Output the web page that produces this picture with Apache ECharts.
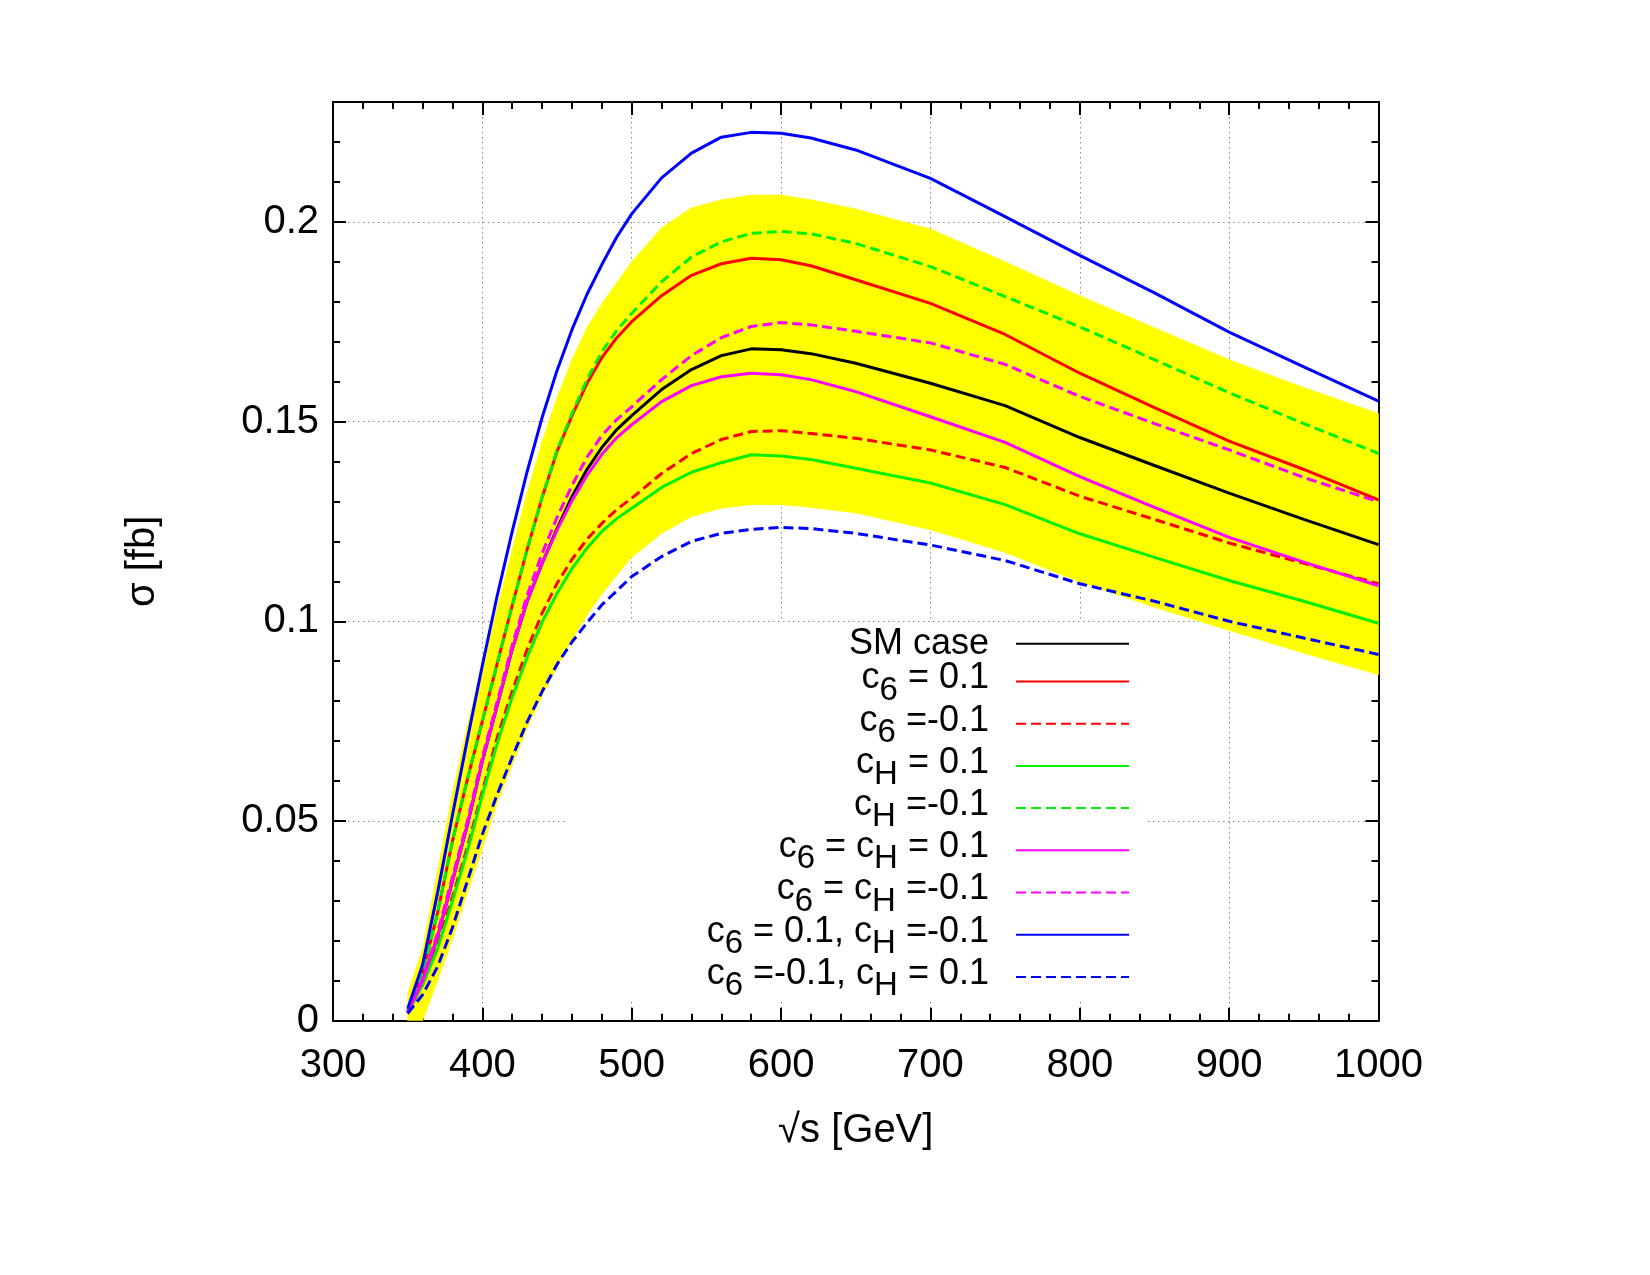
<!DOCTYPE html>
<html>
<head>
<meta charset="utf-8">
<script src="https://cdn.jsdelivr.net/npm/echarts@6/dist/echarts.min.js"></script>
<style>
  html, body { margin: 0; padding: 0; background: #fff; }
  #chart { width: 1650px; height: 1275px; }
</style>
</head>
<body>
<div id="chart"></div>
<script>
// sqrt(s) in GeV
var sqrtS = [350, 360, 370, 380, 390, 400, 410, 420, 430, 440, 450, 460, 470, 480, 490, 500,
  520, 540, 560, 580, 600, 620, 650, 700, 750, 800, 850, 900, 950, 1000];

// sigma [fb] for each case
var smCase = [0.002, 0.010, 0.021, 0.035, 0.049, 0.065, 0.079, 0.093, 0.105, 0.1145, 0.1232, 0.1312, 0.138, 0.1435, 0.148, 0.1515,
  0.158, 0.163, 0.1665, 0.1682, 0.168, 0.167, 0.1646, 0.1596, 0.154, 0.146, 0.139, 0.1321, 0.1255, 0.1192];
var c6Plus = [0.0025, 0.012, 0.027, 0.045, 0.0605, 0.075, 0.0895, 0.104, 0.118, 0.131, 0.1425, 0.1515, 0.1595, 0.166, 0.171, 0.175,
  0.1815, 0.1866, 0.1895, 0.1909, 0.1905, 0.189, 0.1855, 0.1796, 0.1718, 0.1621, 0.1535, 0.1451, 0.138, 0.1304];
var c6Minus = [0.002, 0.009, 0.019, 0.031, 0.0435, 0.0575, 0.071, 0.0825, 0.093, 0.102, 0.1095, 0.1155, 0.1205, 0.1245, 0.128, 0.1308,
  0.137, 0.142, 0.1455, 0.1475, 0.1477, 0.147, 0.1458, 0.1429, 0.1385, 0.1313, 0.1255, 0.1196, 0.1145, 0.1094];
var cHPlus = [0.002, 0.009, 0.018, 0.030, 0.0425, 0.0565, 0.0695, 0.081, 0.091, 0.0998, 0.107, 0.1132, 0.1183, 0.1225, 0.1257, 0.1283,
  0.1335, 0.1373, 0.1397, 0.1417, 0.1414, 0.1405, 0.1383, 0.1346, 0.1292, 0.1219, 0.116, 0.1102, 0.105, 0.0995];
var cHMinus = [0.0025, 0.012, 0.027, 0.045, 0.0605, 0.075, 0.0895, 0.104, 0.118, 0.131, 0.1428, 0.152, 0.1605, 0.1675, 0.1728, 0.1771,
  0.185, 0.1912, 0.195, 0.1971, 0.1976, 0.197, 0.1946, 0.1888, 0.1813, 0.1737, 0.1655, 0.1572, 0.1495, 0.142];
var bothPlus = [0.002, 0.010, 0.021, 0.035, 0.049, 0.065, 0.079, 0.093, 0.105, 0.1145, 0.1228, 0.1302, 0.1365, 0.1418, 0.146, 0.1492,
  0.155, 0.159, 0.1612, 0.1621, 0.1617, 0.1605, 0.1575, 0.1512, 0.1448, 0.1362, 0.1285, 0.121, 0.1148, 0.1089];
var bothMinus = [0.002, 0.0105, 0.022, 0.036, 0.050, 0.066, 0.080, 0.094, 0.1065, 0.117, 0.126, 0.134, 0.141, 0.1465, 0.1505, 0.1537,
  0.1605, 0.1665, 0.171, 0.1738, 0.1748, 0.1742, 0.1726, 0.1697, 0.1643, 0.1563, 0.1495, 0.1429, 0.136, 0.1299];
var c6PlusCHMinus = [0.003, 0.014, 0.032, 0.0515, 0.0705, 0.089, 0.1065, 0.1225, 0.1375, 0.151, 0.1628, 0.173, 0.1818, 0.1893, 0.1962, 0.202,
  0.211, 0.2172, 0.2212, 0.2224, 0.2222, 0.221, 0.218, 0.2109, 0.2013, 0.1916, 0.1822, 0.1724, 0.1637, 0.1551];
var c6MinusCHPlus = [0.0018, 0.0065, 0.0135, 0.0233, 0.035, 0.0467, 0.0567, 0.066, 0.0748, 0.0824, 0.0892, 0.0948, 0.0996, 0.1041, 0.1076, 0.1112,
  0.1162, 0.12, 0.122, 0.123, 0.1235, 0.1232, 0.122, 0.1191, 0.1152, 0.1094, 0.105, 0.1, 0.0958, 0.0917];

// yellow uncertainty band
var bandLow = [0, 0, 0.010, 0.0205, 0.032, 0.043, 0.0545, 0.064, 0.0732, 0.0812, 0.0885, 0.0953, 0.1015, 0.1068, 0.1115, 0.116,
  0.122, 0.1262, 0.1283, 0.1292, 0.1292, 0.1285, 0.1271, 0.1229, 0.1172, 0.1098, 0.1035, 0.0977, 0.092, 0.0866];
var bandHigh = [0.007, 0.018, 0.0375, 0.057, 0.074, 0.089, 0.1035, 0.118, 0.1322, 0.145, 0.156, 0.1655, 0.1735, 0.1795, 0.1848, 0.190,
  0.1985, 0.2035, 0.2055, 0.2067, 0.2067, 0.2055, 0.2032, 0.1982, 0.1900, 0.1815, 0.1735, 0.1655, 0.1585, 0.152];

// axis ticks
var xTicks = [300, 1000, 100];
var yTicks = [0, 0.23, 0.05, 0.01];

var names = ['SM case', 'c6 = 0.1', 'c6 =-0.1', 'cH = 0.1', 'cH =-0.1',
  'c6 = cH = 0.1', 'c6 = cH =-0.1', 'c6 = 0.1, cH =-0.1', 'c6 =-0.1, cH = 0.1'];
var labels = [
  '{m|SM case}{g| }',
  '{n|c}{s|6}{n| = 0.1}{g| }',
  '{n|c}{s|6}{n| =-0.1}{g| }',
  '{n|c}{s|H}{n| = 0.1}{g| }',
  '{n|c}{s|H}{n| =-0.1}{g| }',
  '{n|c}{s|6}{n| = c}{s|H}{n| = 0.1}{g| }',
  '{n|c}{s|6}{n| = c}{s|H}{n| =-0.1}{g| }',
  '{n|c}{s|6}{n| = 0.1, c}{s|H}{n| =-0.1}{g| }',
  '{n|c}{s|6}{n| =-0.1, c}{s|H}{n| = 0.1}{g| }'
];
var curves = [smCase, c6Plus, c6Minus, cHPlus, cHMinus, bothPlus, bothMinus, c6PlusCHMinus, c6MinusCHPlus];
var colors = ['#000000', '#ff0000', '#ff0000', '#00f000', '#00f000', '#ff00ff', '#ff00ff', '#0000ff', '#0000ff'];
var dashed = [false, false, true, false, true, false, true, false, true];

var FONT = 'Liberation Sans, Arial, Helvetica, sans-serif';

function pairs(ys) {
  return sqrtS.map(function (x, i) { return [x, ys[i]]; });
}

var series = [{
  name: 'band', type: 'custom', z: 1, silent: true, clip: true,
  data: sqrtS.map(function (x, i) { return [x, bandLow[i], bandHigh[i]]; }),
  encode: { x: 0, y: [1, 2] },
  renderItem: function (params, api) {
    var i = params.dataIndex;
    if (i >= sqrtS.length - 1) return null;
    var pts = [
      api.coord([sqrtS[i], bandHigh[i]]),
      api.coord([sqrtS[i + 1], bandHigh[i + 1]]),
      api.coord([sqrtS[i + 1], bandLow[i + 1]]),
      api.coord([sqrtS[i], bandLow[i]])
    ];
    return { type: 'polygon', shape: { points: pts }, style: { fill: '#ffff00', stroke: '#ffff00', lineWidth: 0.6 } };
  }
}];
curves.forEach(function (c, i) {
  series.push({
    name: names[i], type: 'line', data: pairs(c), symbol: 'none', showSymbol: false, z: 3 + i,
    lineStyle: { color: colors[i], width: 3, type: dashed[i] ? [10, 5] : 'solid' },
    itemStyle: { color: colors[i] }
  });
});

var tickStyle = { color: '#000', width: 2 };
var gridStyle = { color: '#8a8a8a', width: 1, type: [1.5, 3.5] };

function xAxis(pos, main) {
  return {
    type: 'value', position: pos, min: xTicks[0], max: xTicks[1], interval: xTicks[2],
    axisLine: { show: true, onZero: false, lineStyle: { color: '#000', width: 2 } },
    axisTick: { show: true, inside: true, length: 13, lineStyle: tickStyle },
    minorTick: { show: true, splitNumber: 5, length: 7, lineStyle: tickStyle },
    axisLabel: { show: main, fontSize: 40, color: '#000', margin: 25, fontFamily: FONT,
      formatter: function (v) { return String(v); } },
    splitLine: { show: main, lineStyle: gridStyle },
    name: main ? '√s [GeV]' : '', nameLocation: 'middle', nameGap: 90,
    nameTextStyle: { fontSize: 40, color: '#000', fontFamily: FONT }
  };
}
function yAxis(pos, main, minor) {
  return {
    type: 'value', position: pos, min: yTicks[0], max: yTicks[1], interval: minor ? yTicks[3] : yTicks[2],
    axisLine: { show: !minor, onZero: false, lineStyle: { color: '#000', width: 2 } },
    axisTick: { show: true, inside: true, length: minor ? 7 : 13, lineStyle: tickStyle },
    axisLabel: { show: main && !minor, showMaxLabel: false, fontSize: 40, color: '#000', margin: 14, fontFamily: FONT },
    splitLine: { show: main && !minor, lineStyle: gridStyle },
    name: (main && !minor) ? 'σ [fb]' : '', nameLocation: 'middle', nameGap: 170,
    nameTextStyle: { fontSize: 40, color: '#000', fontFamily: FONT }
  };
}

var chart = echarts.init(document.getElementById('chart'), null, { renderer: 'canvas' });
chart.setOption({
  backgroundColor: '#fff',
  animation: false,
  textStyle: { fontFamily: FONT },
  grid: { left: 333, right: 271.5, top: 102, bottom: 254.3, containLabel: false },
  xAxis: [xAxis('bottom', true), xAxis('top', false)],
  yAxis: [yAxis('left', true, false), yAxis('left', true, true), yAxis('right', false, false), yAxis('right', false, true)],
  // opaque key box: hides the grid under the legend, stays below the curves
  graphic: [{
    type: 'rect', left: 568, top: 622, z: 1, silent: true,
    shape: { width: 577, height: 378 }, style: { fill: '#ffffff' }
  }],
  legend: {
    data: names,
    orient: 'vertical',
    align: 'right',
    right: 510, top: 622.8,
    padding: [0, 10, 0, 0],
    itemGap: -8.8,
    itemWidth: 113, itemHeight: 2,
    selectedMode: false,
    itemStyle: { opacity: 0 },
    formatter: function (name) { return labels[names.indexOf(name)]; },
    textStyle: {
      color: '#000', fontFamily: FONT,
      rich: {
        n: { fontSize: 36, lineHeight: 26, padding: [0, 0, 6, 0], fontFamily: FONT, color: '#000' },
        m: { fontSize: 36, lineHeight: 36, fontFamily: FONT, color: '#000' },
        s: { fontSize: 33, lineHeight: 22, padding: [18, 0, 0, 0], fontFamily: FONT, color: '#000' },
        g: { width: 22, fontSize: 36, lineHeight: 26, padding: [0, 0, 6, 0] }
      }
    }
  },
  series: series
});
</script>
</body>
</html>
